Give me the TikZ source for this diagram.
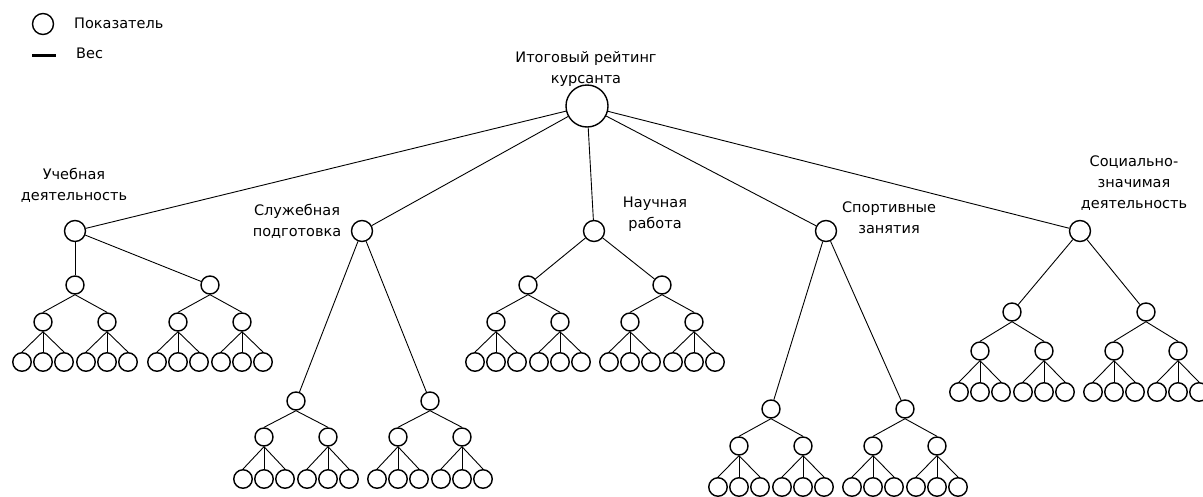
\documentclass[tikz,border=0pt]{standalone}
\usepackage{fontspec}
\setmainfont{DejaVu Sans}
\usepackage{tikz}
\tikzset{
	pokaz/.style={circle, draw=black, line width=1.4pt, fill=white, inner sep=0pt, minimum size=18pt},
	nadpis/.style={align=center, inner sep=0pt, font=\fontsize{14.5}{21}\selectfont},
	ves/.style={line width=0.9pt}
}
\begin{document}
\begin{tikzpicture}[x=1pt,y=-1pt]
			\useasboundingbox (0,0) rectangle (1203,496);
			% legend
			\node[pokaz, minimum size=21pt] (leg) at (43,24) {};
			\node[nadpis, anchor=west] (legtxt) at (74,23) {Показатель};
			\coordinate (vesA) at (32,55);
			\coordinate (vesB) at (56,55);
			\draw [line width=3pt] (vesA)-- (vesB);
			\node[nadpis, anchor=west] (vestxt) at (76,53) {Вес};
			
			\node[pokaz, minimum size=42pt] (itog) at (587,106) {};
			\node[nadpis] (itogtxt) at (586,69) {Итоговый рейтинг\\курсанта};
			
			\node[pokaz, minimum size=21pt] (ucheb) at (75,231) {};
			\node[pokaz, minimum size=21pt] (sluzh) at (362,231) {};
			\node[pokaz, minimum size=21pt] (nauch) at (594,231) {};
			\node[pokaz, minimum size=21pt] (sport) at (826,231) {};
			\node[pokaz, minimum size=21pt] (soc) at (1080,231) {};
			\node[nadpis] (uchebtxt) at (74,185) {Учебная\\деятельность};
			\node[nadpis] (sluzhtxt) at (297,221) {Служебная\\подготовка};
			\node[nadpis] (nauchtxt) at (655,214) {Научная\\работа};
			\node[nadpis] (sporttxt) at (889,218) {Спортивные\\занятия};
			\node[nadpis] (soctxt) at (1134,183) {Социально-\\значимая\\деятельность};
			\foreach \s in {ucheb,sluzh,nauch,sport,soc}
				\draw [ves] (itog)-- (\s);
			
			% subtrees: level 2, level 3, leaves
			\foreach \s/\xa/\xb/\ya/\yb/\yc in {ucheb/75/210/285/322/362, sluzh/296/430/401/437/479, nauch/528/662/285/322/362, sport/771/905/409/446/487, soc/1012/1146/312/351/392}{
				\foreach \k/\xk in {a/\xa, b/\xb}{
					\node[pokaz] (\s-\k) at (\xk,\ya) {};
					\draw [ves] (\s)-- (\s-\k);
					\foreach \m/\dm in {1/-32, 2/32}{
						\node[pokaz] (\s-\k\m) at ({\xk+\dm},\yb) {};
						\draw [ves] (\s-\k.south)-- (\s-\k\m.north);
						\foreach \n/\dn in {1/-21, 2/0, 3/21}{
							\node[pokaz, minimum size=18.5pt] (\s-\k\m-\n) at ({\xk+\dm+\dn},\yc) {};
							\draw [ves] (\s-\k\m.south)-- (\s-\k\m-\n.north);
						}
					}
				}
			}
		\end{tikzpicture}
\end{document}
